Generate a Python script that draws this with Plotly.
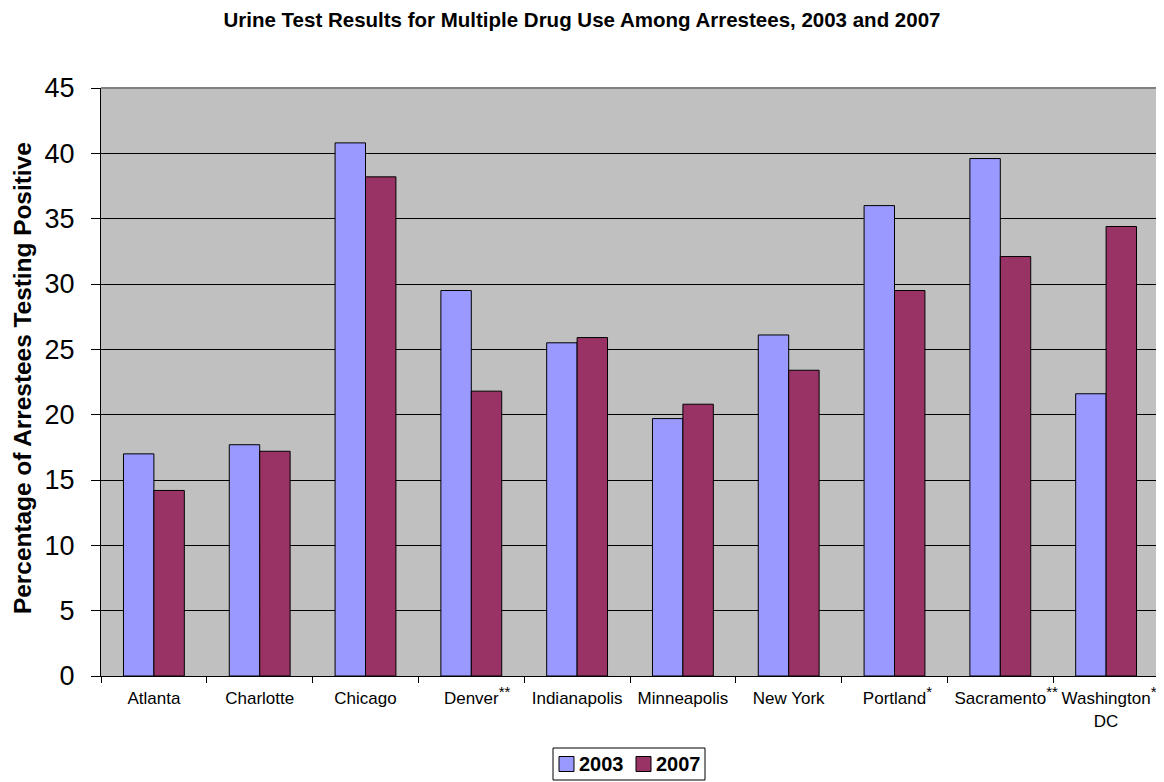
import plotly.graph_objects as go

# ---------------- data ----------------
cities = ["Atlanta", "Charlotte", "Chicago", "Denver", "Indianapolis", "Minneapolis",
          "New York", "Portland", "Sacramento", "Washington DC"]
label_main = ["Atlanta", "Charlotte", "Chicago", "Denver", "Indianapolis", "Minneapolis",
              "New York", "Portland", "Sacramento", "Washington"]
label_mark = ["", "", "", "**", "", "", "", "*", "**", "*"]
label_line2 = ["", "", "", "", "", "", "", "", "", "DC"]
series_names = ["2003", "2007"]
vals_2003 = [17.0, 17.7, 40.8, 29.5, 25.5, 19.7, 26.1, 36.0, 39.6, 21.6]
vals_2007 = [14.2, 17.2, 38.2, 21.8, 25.9, 20.8, 23.4, 29.5, 32.1, 34.4]

# ---------------- style ----------------
colors = ["#9999FF", "#993366"]
FONT = "Liberation Sans, Arial, sans-serif"
OFF = 8                      # default page (body) margin of the browser
SCR_W, SCR_H = 1164, 782     # window size
W, H = SCR_W - OFF, SCR_H - OFF
# plot-area edges in window pixels
PL, PR, PT, PB = 101, 1159, 88, 676


def px(x):
    return (x - PL) / (PR - PL)


def py(y):
    return (PB - y) / (PB - PT)


def tick_text(main, mark, line2):
    if mark:
        t = ("<sup><span style='color:rgba(0,0,0,0);font-size:15px'>" + mark + "</span></sup>"
             + main + "<sup><span style='font-size:15px'>" + mark + "</span></sup>")
    else:
        t = main
    if line2:
        t += "<br>" + line2
    return t


tick_labels = [tick_text(m, k, l2) for m, k, l2 in zip(label_main, label_mark, label_line2)]

fig = go.Figure()
for name, vals, col in zip(series_names, [vals_2003, vals_2007], colors):
    fig.add_trace(go.Bar(x=cities, y=vals, name=name, showlegend=False,
                         marker=dict(color=col, line=dict(color="black", width=1))))

fig.update_layout(
    width=W, height=H,
    margin=dict(l=PL - OFF, r=SCR_W - PR, t=PT - OFF, b=SCR_H - PB),
    paper_bgcolor="white",
    plot_bgcolor="#C0C0C0",
    barmode="group",
    bargap=0.425,
    bargroupgap=0,
    font=dict(family=FONT, color="black"),
    title=dict(text="<b>Urine Test Results for Multiple Drug Use Among Arrestees, 2003 and 2007</b>",
               x=(582 - OFF) / W, xanchor="center", y=1 - 5 / H, yanchor="top",
               font=dict(size=20.5, family=FONT)),
    showlegend=False,
    xaxis=dict(tickmode="array", tickvals=cities, ticktext=tick_labels,
               tickfont=dict(size=17), tickangle=0, automargin=False,
               ticks="outside", ticklen=6, tickcolor="black", tickson="boundaries",
               ticklabelstandoff=7,
               showline=True, linecolor="black", linewidth=1, showgrid=False),
    yaxis=dict(range=[0, 45], dtick=5, tickfont=dict(size=27), automargin=False,
               ticks="outside", ticklen=9, tickcolor="black", ticklabelstandoff=11,
               showline=True, linecolor="black", linewidth=1,
               showgrid=True, gridcolor="black", gridwidth=1, zeroline=False),
)

# y-axis title
fig.add_annotation(text="<b>Percentage of Arrestees Testing Positive</b>",
                   xref="paper", yref="paper", x=px(22), y=py(378),
                   xanchor="center", yanchor="middle", textangle=-90,
                   showarrow=False, font=dict(size=24.4, family=FONT))

# plot-area border (top / right)
fig.add_shape(type="line", xref="paper", yref="paper", x0=0, x1=1, y0=1, y1=1,
              line=dict(color="#808080", width=2))
fig.add_shape(type="line", xref="paper", yref="paper", x0=1, x1=1, y0=0, y1=1,
              line=dict(color="#808080", width=2))

# legend (boxed, below the chart)
LEG_TOP, LEG_BOT, LEG_MID = 748, 780, 764
fig.add_shape(type="rect", xref="paper", yref="paper",
              x0=px(553), x1=px(705), y0=py(LEG_BOT), y1=py(LEG_TOP),
              line=dict(color="black", width=1), fillcolor="white")
sq_left = [559, 636]
for name, col, sx in zip(series_names, colors, sq_left):
    fig.add_shape(type="rect", xref="paper", yref="paper",
                  x0=px(sx), x1=px(sx + 15), y0=py(LEG_MID + 7.5), y1=py(LEG_MID - 7.5),
                  line=dict(color="black", width=1), fillcolor=col)
    fig.add_annotation(text="<b>" + name + "</b>", xref="paper", yref="paper",
                       x=px(sx + 18), y=py(LEG_MID), xanchor="left", yanchor="middle",
                       showarrow=False, font=dict(size=20, family=FONT))

fig.write_html("out.html")
